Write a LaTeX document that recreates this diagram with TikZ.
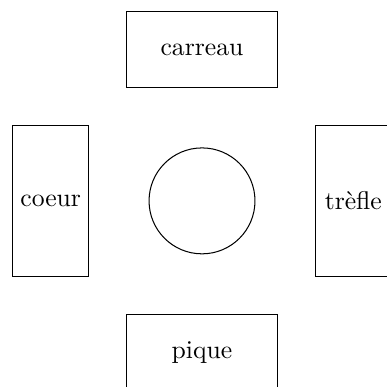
\documentclass[tikz,border=0pt]{standalone}
\usepackage{graphicx}
% labels are set at 10pt and enlarged, keeping the 10pt letter shapes
\newcommand{\biglabel}[1]{\scalebox{1.93}{#1}}
\begin{document}
\begin{tikzpicture}[
  line width=0.77pt,
  widebox/.style={draw, minimum width=4cm, minimum height=2cm, inner sep=0pt},
  tallbox/.style={draw, minimum width=2cm, minimum height=4cm, inner sep=0pt}
]
  % visible frame of the page
  \useasboundingbox (-5.34,-4.92) rectangle (4.89,5.31);
  \clip (-5.34,-4.92) rectangle (4.89,5.31);

  % centre table
  \node[draw, circle, minimum size=2.8cm, inner sep=0pt] (table) at (0,0) {};

  % the four suits around it
  \node[widebox] (carreau) at (0,4) {\biglabel{carreau}};
  \node[widebox] (pique) at (0,-4) {\biglabel{pique}};
  \node[tallbox] (coeur) at (-4,0) {\biglabel{coeur}};
  \node[tallbox] (trefle) at (4,0) {\biglabel{trèfle}};
\end{tikzpicture}
\end{document}
